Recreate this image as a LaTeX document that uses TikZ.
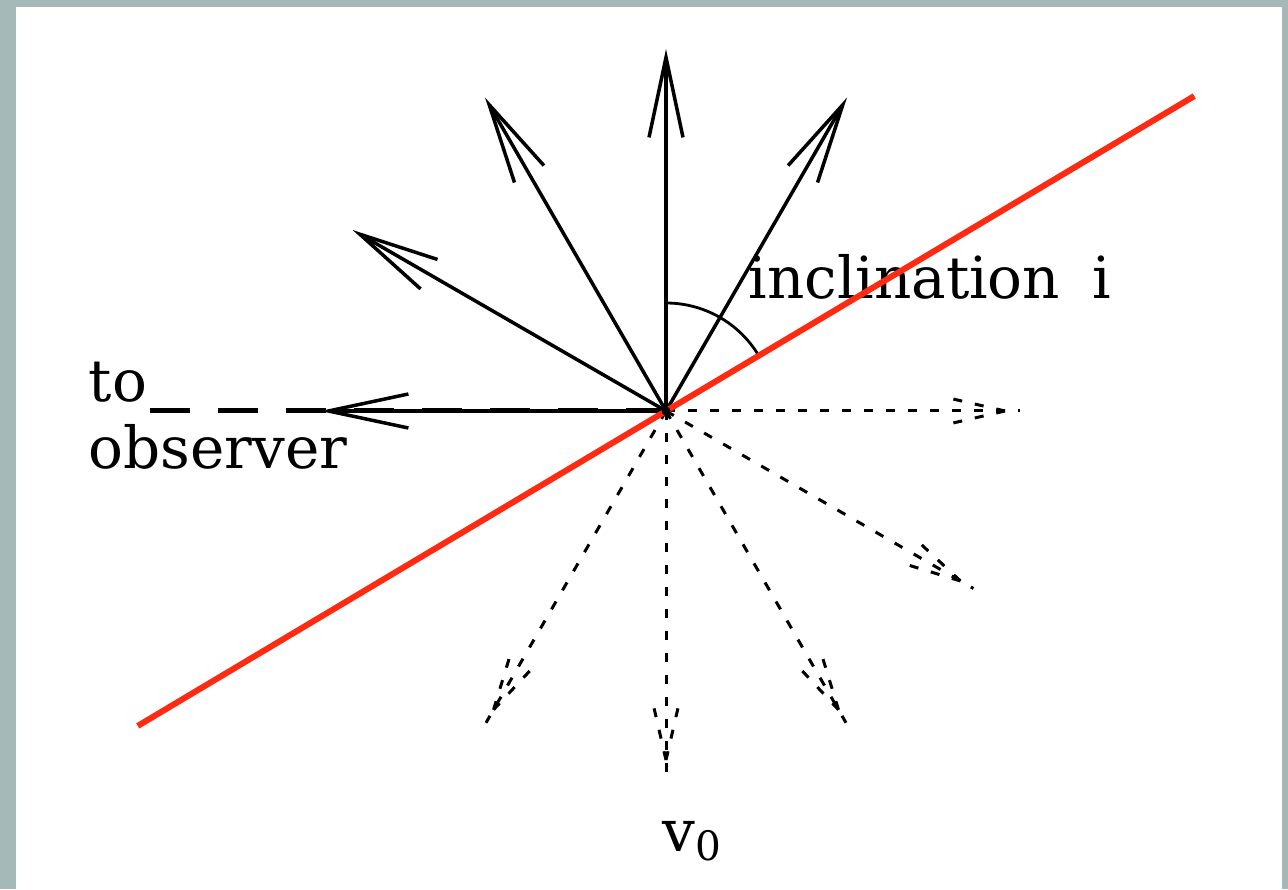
\documentclass[tikz,border=0pt]{standalone}
\usepackage{fontspec}
\setmainfont{DejaVu Serif}
\usetikzlibrary{arrows.meta}
\definecolor{frame}{HTML}{A5B9B9}
\definecolor{plane}{HTML}{FF2A12}

\begin{document}
\begin{tikzpicture}[>={Straight Barb[length=8mm,width=3.4mm]},
  vec/.style={line width=.35mm,->},
  dotvec/.style={line width=.3mm,dash pattern=on .9mm off 1.3mm},
  lbl/.style={font=\fontsize{16.5}{18}\selectfont,inner sep=0pt,anchor=base west}]
 \fill[frame] (0,0) rectangle (12.88,8.89);
 \fill[white] (.16,0) rectangle (12.82,8.82);
 \coordinate (O) at (6.66,4.78);
 \coordinate (obsend) at (1.48,4.78);
 \path (O) ++(210.8:6.15) coordinate (planeA) (O) ++(30.8:6.15) coordinate (planeB);
 \node[lbl] (to) at (.88,4.87) {to};
 \node[lbl] (obsv) at (.88,4.20) {observer};
 \node[lbl] (incl) at (7.48,5.90) {inclination\hspace{.55em}i};
 \node[lbl,anchor=base] (vnull) at (6.93,.38) {v\textsubscript{0}};
 \foreach \a in {60,90,120,150} \draw[vec] (O) -- ++(\a:3.62) coordinate (up\a);
 \draw[vec] (O) -- ++(180:3.46) coordinate (obs);
 \draw[line width=.5mm,dash pattern=on 4mm off 2.8mm] (O) -- (obsend);
 \foreach \a/\l in {0/3.54,-30/3.55,-60/3.6,-90/3.64,-120/3.6}{
  \draw[dotvec] (O) -- ++(\a:\l);
  \path (O) ++(\a:\l-.15) coordinate (tip);
  \draw[dotvec] (tip) -- ++(\a+167:.6) (tip) -- ++(\a+193:.6);
 }
 \draw[line width=.28mm] (O) ++(90:1.08) arc[start angle=90,end angle=30.8,radius=1.08];
 \draw[plane,line width=.6mm] (planeA) -- (planeB);
 \fill (O) circle (.45mm);
\end{tikzpicture}
\end{document}
